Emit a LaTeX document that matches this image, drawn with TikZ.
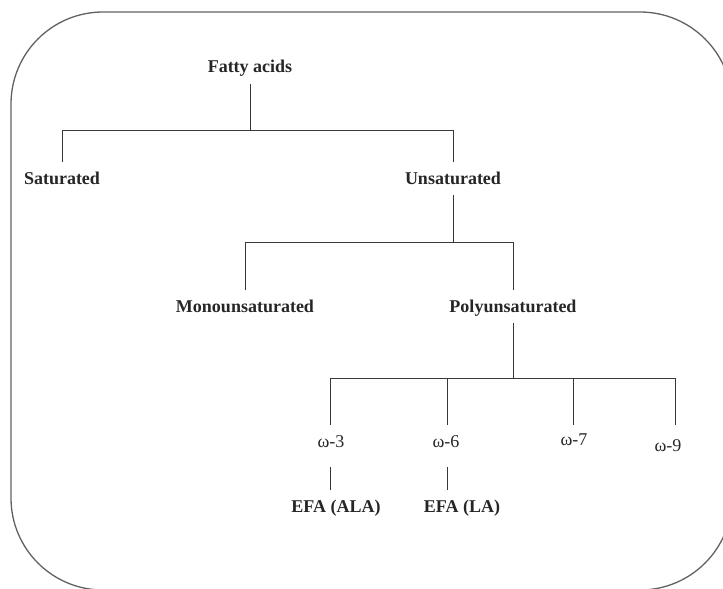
\documentclass[tikz,border=0pt]{standalone}
\usepackage{fontspec}
\setmainfont{Liberation Serif}
\begin{document}
\begin{tikzpicture}[x=1pt,y=-1pt,
  lab/.style={font=\fontsize{18}{20}\selectfont\bfseries, text=black!85, text height=14pt, text depth=3pt, inner ysep=8pt, inner xsep=2pt},
  olab/.style={lab, font=\fontsize{18}{20}\selectfont},
  conn/.style={draw=black!78, line width=1pt},
  frame/.style={draw=black!62, line width=1.3pt, rounded corners=92pt}]
\useasboundingbox (0,0) rectangle (723,589);
\begin{scope}
  \clip (0,0) rectangle (723,589);
  \draw[frame] (11,12) rectangle (732,590);
\end{scope}
% nodes
\node[lab] (fa) at (250,67) {Fatty acids};
\node[lab] (sat) at (62,178.5) {Saturated};
\node[lab] (uns) at (453,178.5) {Unsaturated};
\node[lab] (mono) at (245,306.5) {Monounsaturated};
\node[lab] (poly) at (513,306.5) {Polyunsaturated};
\node[olab] (w3) at (331,441.5) {ω-3};
\node[olab] (w6) at (446,441.5) {ω-6};
\node[olab] (w7) at (574,440) {ω-7};
\node[olab] (w9) at (668,446) {ω-9};
\node[lab] (efa1) at (336,506.5) {EFA (ALA)};
\node[lab] (efa2) at (462,506.5) {EFA (LA)};
% bar levels and vertical positions
\coordinate (b1) at (0,130);
\coordinate (b2) at (0,242);
\coordinate (b3) at (0,378);
\coordinate (v3) at (330,0);
\coordinate (v6) at (447,0);
\coordinate (v7) at (573,0);
\coordinate (v9) at (675,0);
% level 1
\draw[conn] (fa.south) -- (fa.south |- b1);
\draw[conn] (sat.north) -- (sat.north |- b1) -- (uns.north |- b1) -- (uns.north);
% level 2
\draw[conn] (uns.south) -- (uns.south |- b2);
\draw[conn] (mono.north) -- (mono.north |- b2) -- (poly.north |- b2) -- (poly.north);
% level 3
\draw[conn] (poly.south) -- (poly.south |- b3);
\draw[conn] (v3 |- w3.north) -- (v3 |- b3) -- (v9 |- b3) -- (v9 |- w3.north);
\draw[conn] (v6 |- b3) -- (v6 |- w6.north);
\draw[conn] (v7 |- b3) -- (v7 |- w3.north);
% level 4
\draw[conn] ([yshift=-9pt]v3 |- w3.south) -- (v3 |- efa1.north);
\draw[conn] ([yshift=-9pt]v6 |- w6.south) -- (v6 |- efa2.north);
\end{tikzpicture}
\end{document}
